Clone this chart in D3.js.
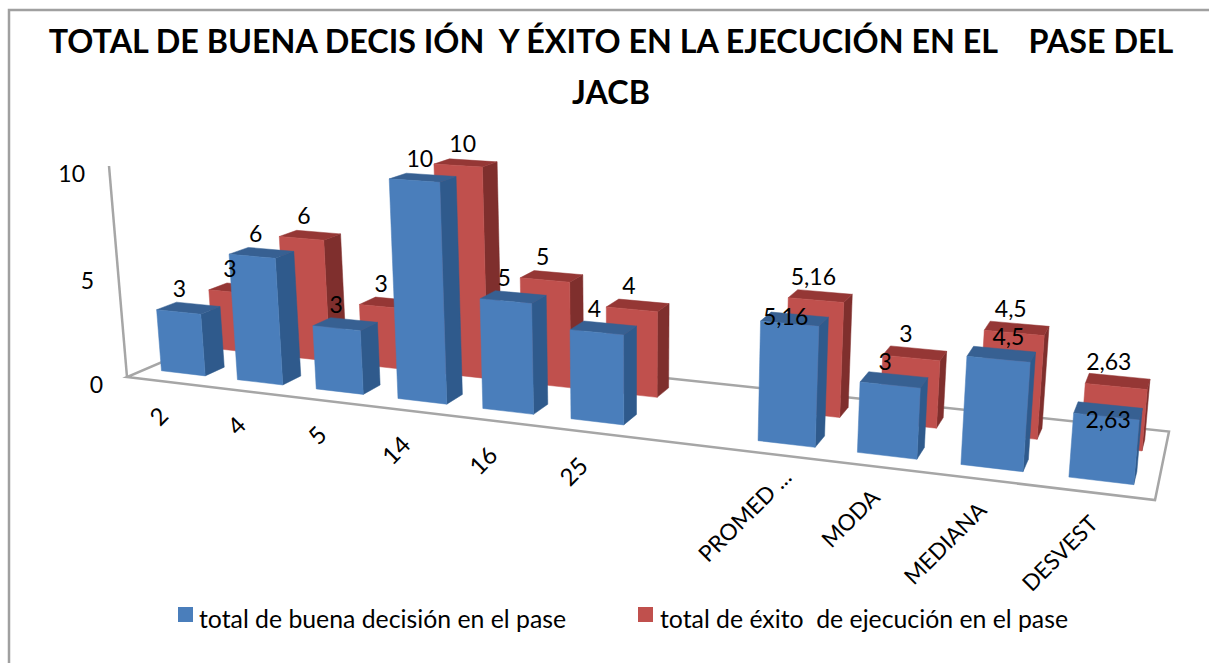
<!DOCTYPE html>
<html><head><meta charset="utf-8">
<script src="https://cdnjs.cloudflare.com/ajax/libs/d3/7.8.5/d3.min.js"></script>
<style>html,body{margin:0;padding:0;background:#fff}svg{display:block}text{font-family:Lato,Carlito,"Open Sans",sans-serif;fill:#000;white-space:pre}</style>
</head><body><svg id="c" width="1209" height="663"></svg>
<script>
const categories = ["2","4","5","14","16","25"," ","PROMED ...","MODA","MEDIANA","DESVEST"];
const seriesNames = ["total de buena decisión en el pase","total de éxito  de ejecución en el pase"];
const buenaDecision = [3,6,3,10,5,4,null,5.16,3,4.5,2.63];
const exitoEjecucion = [3,6,3,10,5,4,null,5.16,3,4.5,2.63];
const valueTicks = [0,5,10];
const titleLines = ["TOTAL DE BUENA DECIS IÓN  Y ÉXITO EN LA EJECUCIÓN EN EL    PASE DEL","JACB"];

const svg = d3.select("#c");
const W=1209,H=663;
svg.append("path").attr("d",`M9,${H}V10H${W}`).attr("fill","none").attr("stroke","#a0a0a0").attr("stroke-width",2.5);

// camera: floor quad + vertical vanishing point
const F={x00:127,y00:377,x10:1155,y10:500,x11:1169,y11:431.5,x01:232,y01:332};
const dx1=F.x10-F.x11,dx2=F.x01-F.x11,sx=F.x00-F.x10+F.x11-F.x01;
const dy1=F.y10-F.y11,dy2=F.y01-F.y11,sy=F.y00-F.y10+F.y11-F.y01;
const den=dx1*dy2-dx2*dy1;
const g=(sx*dy2-dx2*sy)/den,h=(dx1*sy-sx*dy1)/den;
const a=F.x10-F.x00+g*F.x10,b=F.x01-F.x00+h*F.x01,c=F.x00;
const d_=F.y10-F.y00+g*F.y10,e=F.y01-F.y00+h*F.y01,f=F.y00;
const K=-0.0342,Vx=635,Vy=6336;
function project(u,v,z){const w=g*u+h*v+1+K*z;return [(a*u+b*v+c+K*Vx*z)/w,(d_*u+e*v+f+K*Vy*z)/w];}

const xScale=d3.scaleBand().domain(categories).range([0,1]).paddingInner(0.42).paddingOuter(0.21);
const depthScale=d3.scaleBand().domain(seriesNames).range([0,1]).paddingInner(0.63).paddingOuter(0.34);
const valueScale=d3.scaleLinear().domain([0,10]).range([0,1]);
const line=d3.line();

// floor + wall
const axisG=svg.append("g").attr("fill","none").attr("stroke","#a6a6a6").attr("stroke-width",2.5);
axisG.append("path").attr("d",line([project(0,0,0),project(1,0,0),project(1,1,0),project(0,1,0)])+"Z");
axisG.append("path").attr("d",line([project(0,0,0),project(0,0,valueScale(10))]));

// value ticks
svg.selectAll(".vt").data(valueTicks).join("text").attr("class","vt")
 .attr("x",d=>project(0,0,valueScale(d))[0]-24)
 .attr("y",d=>project(0,0,valueScale(d))[1]+16)
 .attr("text-anchor","end").attr("font-size",23).text(d=>d);

const palette=[{front:"#4a7ebb",side:"#2f5a8c",top:"#376092"},{front:"#c0504d",side:"#7f2f2d",top:"#953735"}];
const series=[{name:seriesNames[1],values:exitoEjecucion,col:palette[1]},{name:seriesNames[0],values:buenaDecision,col:palette[0]}];

function barFaces(cat,name,val){
 const u0=xScale(cat),u1=u0+xScale.bandwidth(),v0=depthScale(name),v1=v0+depthScale.bandwidth(),z=valueScale(val);
 return {
  side:[project(u1,v0,0),project(u1,v1,0),project(u1,v1,z),project(u1,v0,z)],
  top:[project(u0,v0,z),project(u1,v0,z),project(u1,v1,z),project(u0,v1,z)],
  front:[project(u0,v0,0),project(u1,v0,0),project(u1,v0,z),project(u0,v0,z)],
  anchor:project((u0+u1)/2,(v0+v1)/2,z)
 };
}
series.forEach(s=>{
 const gS=svg.append("g");
 categories.forEach((cat,i)=>{
  const val=s.values[i]; if(val==null) return;
  const fc=barFaces(cat,s.name,val);
  [["side",s.col.side],["top",s.col.top],["front",s.col.front]].forEach(([k,col])=>{
   gS.append("path").attr("d",line(fc[k])+"Z").attr("fill",col).attr("stroke",col).attr("stroke-width",0.5);
  });
 });
});

// labels
const labelNudgeBlue=[[-9,-20],[-6,-20],[-9,-20],[-3,-20],[-9,-20],[-9,-20],null,[-9,-3],[-9,-19],[7,-18],[0,8]];
const labelNudgeRed=[[-9,-20],[-6,-20],[-9,-20],[-3,-20],[-9,-20],[-9,-20],null,[-7,-20],[-9,-20],[-6,-20],[-9,-20]];
series.forEach((s,si)=>{
 const nud=si===0?labelNudgeRed:labelNudgeBlue;
 categories.forEach((cat,i)=>{
  const val=s.values[i]; if(val==null) return;
  const p=barFaces(cat,s.name,val).anchor;
  svg.append("text").attr("class","dl").attr("x",p[0]+nud[i][0]).attr("y",p[1]+nud[i][1]+9)
   .attr("text-anchor","middle").attr("font-size",23).text(String(val).replace(".",","));
 });
});

// category labels
categories.forEach(cat=>{
 if(!cat.trim()) return;
 const p=project(xScale(cat)+xScale.bandwidth()/2,0,0);
 const long=cat.startsWith("PROMED");
 const short=cat.length<3;
 const t=svg.append("text").attr("transform",`translate(${p[0]+(long?16:short?5:2)},${p[1]+(long?24:short?36:32)}) rotate(-45)`)
  .attr("text-anchor","end").attr("font-size",short?24:22.5).text(cat);
 if(long) t.attr("textLength",120).attr("lengthAdjust","spacingAndGlyphs");
});

// title
svg.selectAll(".ti").data(titleLines).join("text").attr("class","ti")
 .attr("x",611).attr("y",(d,i)=>53+i*51).attr("text-anchor","middle")
 .attr("font-size",32.3).attr("font-weight",700).text(d=>d);

// legend
const legX=[178,638],legT=[199,660];
seriesNames.forEach((n,i)=>{
 svg.append("rect").attr("x",legX[i]).attr("y",607).attr("width",15).attr("height",15).attr("fill",palette[i].front);
 svg.append("text").attr("x",legT[i]).attr("y",628).attr("font-size",24.8).text(n);
});
</script></body></html>
